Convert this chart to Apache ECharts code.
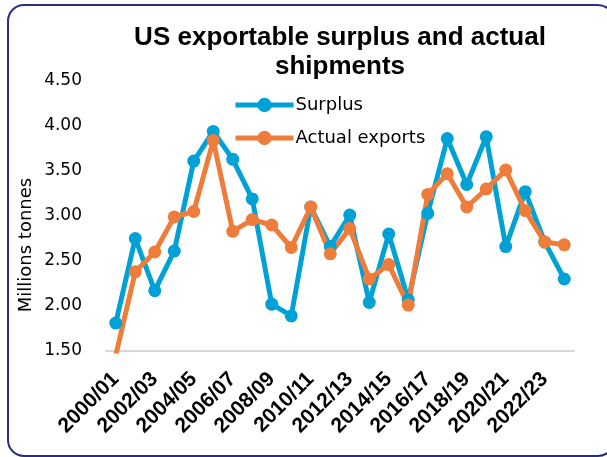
<!DOCTYPE html>
<html>
<head>
<meta charset="utf-8">
<script src="https://cdn.jsdelivr.net/npm/echarts@6/dist/echarts.min.js"></script>
<style>
  html, body { margin: 0; padding: 0; background: #fff; }
  #chart { width: 607px; height: 457px; }
</style>
</head>
<body>
<div id="chart"></div>
<script>
// Marketing years
const seasons = [
  '2000/01', '2001/02', '2002/03', '2003/04', '2004/05', '2005/06',
  '2006/07', '2007/08', '2008/09', '2009/10', '2010/11', '2011/12',
  '2012/13', '2013/14', '2014/15', '2015/16', '2016/17', '2017/18',
  '2018/19', '2019/20', '2020/21', '2021/22', '2022/23', '2023/24'
];

// Exportable surplus, million tonnes
const surplus = [
  1.81, 2.75, 2.17, 2.61, 3.61, 3.94, 3.63, 3.19, 2.02, 1.89, 3.10, 2.66,
  3.01, 2.04, 2.80, 2.07, 3.03, 3.86, 3.35, 3.88, 2.66, 3.27, 2.71, 2.30
];

// Actual shipments, million tonnes
const actualExports = [
  1.45, 2.38, 2.60, 2.99, 3.05, 3.84, 2.83, 2.96, 2.90, 2.65, 3.10, 2.58,
  2.86, 2.30, 2.46, 2.01, 3.24, 3.47, 3.10, 3.30, 3.51, 3.06, 2.71, 2.68
];

const chart = echarts.init(document.getElementById('chart'), null, { renderer: 'canvas' });

const BLUE = '#00a2d6';
const ORANGE = '#ee7d3b';

chart.setOption({
  backgroundColor: '#ffffff',
  animation: false,
  title: {
    text: 'US exportable surplus and actual\nshipments',
    left: 340,
    top: 23,
    padding: 0,
    textAlign: 'center',
    textStyle: {
      fontFamily: 'Liberation Sans',
      fontWeight: 'bold',
      fontSize: 26,
      lineHeight: 29,
      color: '#000'
    }
  },
  legend: {
    orient: 'vertical',
    left: 228,
    top: 91,
    itemWidth: 58,
    itemHeight: 18,
    itemGap: 15,
    lineStyle: { width: 5 },
    textStyle: {
      fontFamily: 'DejaVu Sans',
      fontSize: 18,
      color: '#000',
      padding: [0, 0, 0, -3]
    },
    data: ['Surplus', 'Actual exports']
  },
  grid: {
    left: 106,
    right: 33,
    top: 81,
    bottom: 106
  },
  xAxis: {
    type: 'category',
    data: seasons,
    boundaryGap: true,
    axisLine: { show: true, lineStyle: { color: '#d9d9d9', width: 2 } },
    axisTick: { show: false },
    axisLabel: {
      interval: 1,
      rotate: 45,
      margin: 25,
      fontFamily: 'Liberation Sans',
      fontWeight: 'bold',
      fontSize: 21,
      color: '#000'
    },
    splitLine: { show: false }
  },
  yAxis: {
    type: 'value',
    min: 1.5,
    max: 4.5,
    interval: 0.5,
    axisLine: { show: false },
    axisTick: { show: false },
    splitLine: { show: false },
    axisLabel: {
      margin: 24,
      fontFamily: 'DejaVu Sans',
      fontSize: 17,
      color: '#000',
      formatter: v => v.toFixed(2)
    }
  },
  graphic: [
    {
      type: 'rect',
      silent: true,
      shape: { x: 8, y: 5, width: 606, height: 451, r: 16 },
      style: { fill: 'none', stroke: '#2b2f80', lineWidth: 2 }
    },
    {
      type: 'text',
      silent: true,
      x: 26,
      y: 245,
      rotation: Math.PI / 2,
      style: {
        text: 'Millions tonnes',
        fontFamily: 'DejaVu Sans',
        fontSize: 18,
        fill: '#000',
        align: 'center',
        verticalAlign: 'middle'
      }
    }
  ],
  series: [
    {
      name: 'Surplus',
      type: 'line',
      data: surplus,
      symbol: 'circle',
      symbolSize: 13,
      clip: true,
      lineStyle: { color: BLUE, width: 5 },
      itemStyle: { color: BLUE }
    },
    {
      name: 'Actual exports',
      type: 'line',
      data: actualExports,
      symbol: 'circle',
      symbolSize: 13,
      clip: true,
      lineStyle: { color: ORANGE, width: 5 },
      itemStyle: { color: ORANGE }
    }
  ]
});
</script>
</body>
</html>
